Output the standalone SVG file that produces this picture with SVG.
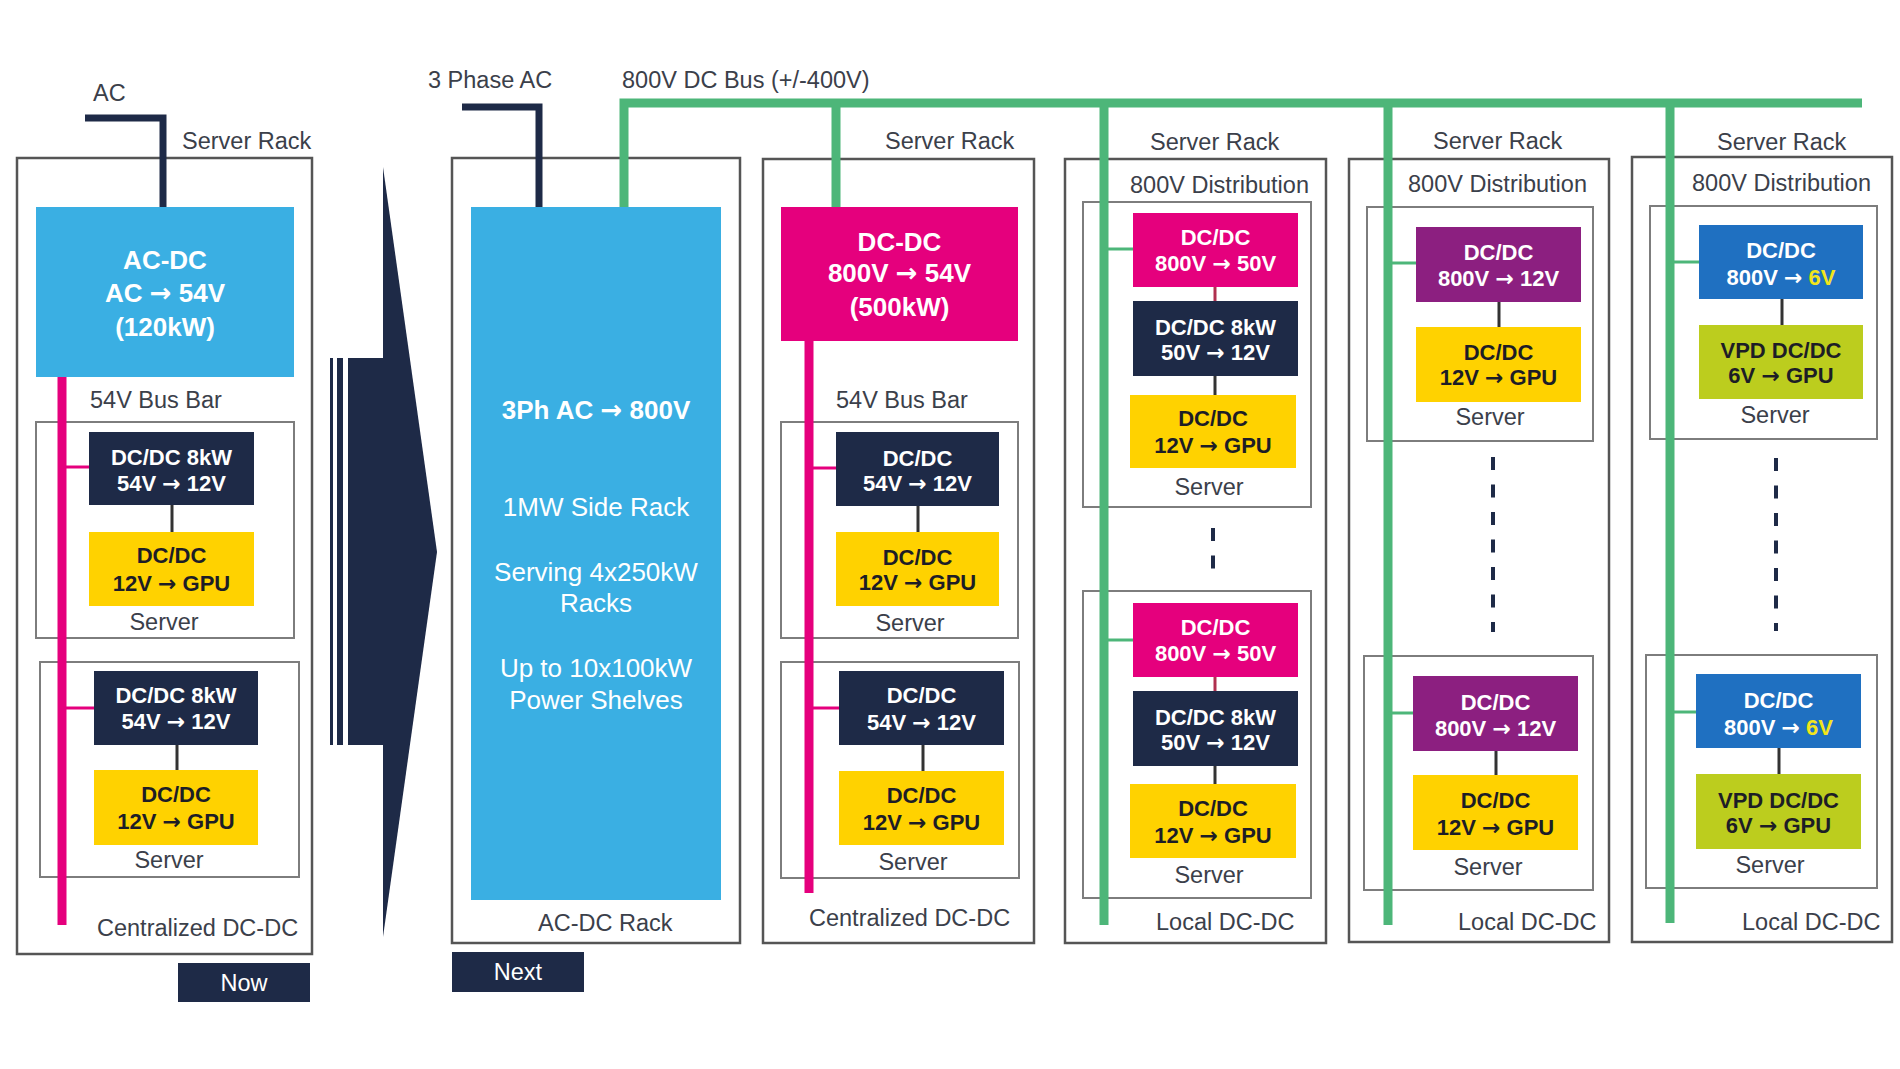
<svg xmlns="http://www.w3.org/2000/svg" width="1900" height="1069" viewBox="0 0 1900 1069">
<style>
.rack{fill:none;stroke:#555;stroke-width:2.5}
.srv{fill:none;stroke:#7d7d7d;stroke-width:2}
.lbl{font-family:"Liberation Sans",Arial,sans-serif;font-size:23.5px;fill:#3b404a}
.c{text-anchor:middle}
.bt{font-family:"Liberation Sans",Arial,sans-serif;font-weight:bold;font-size:22px;text-anchor:middle}
.big{font-size:26px}
.reg{font-family:"Liberation Sans",Arial,sans-serif;font-size:26px;text-anchor:middle;fill:#fff}
.ar{font-family:"DejaVu Sans",sans-serif;font-weight:bold}
.w{fill:#fff}
.d{fill:#1d1d26}
.navy{fill:#1e2a47}
.lblue{fill:#3aafe3}
.pink{fill:#e5007d}
.yel{fill:#ffd200}
.purp{fill:#8c1f80}
.blue{fill:#1f70c1}
.ygr{fill:#bccd1e}
.gbus{fill:none;stroke:#4db679;stroke-width:9}
.gstub{stroke:#4db679;stroke-width:3}
.pbus{stroke:#e5007d;stroke-width:9}
.pstub{stroke:#e5007d;stroke-width:3}
.link{stroke:#333;stroke-width:3}
.rlink{stroke:#b0304f;stroke-width:3}
.dash{stroke:#1e2a47;stroke-width:4;stroke-dasharray:13 14.5}
.feed{fill:none;stroke:#1e2a47;stroke-width:7}
</style>

<!-- Left: Now -->
<g id="rack-now">
  <rect class="rack" x="17" y="158" width="295" height="796"/>
  <text class="lbl" x="182" y="149">Server Rack</text>
  <text class="lbl" x="90" y="408">54V Bus Bar</text>
  <text class="lbl" x="97" y="936">Centralized DC-DC</text>
</g>
<g id="server-now-1">
  <rect class="srv" x="36" y="422" width="258" height="216"/>
  <text class="lbl c" x="164" y="630">Server</text>
</g>
<g id="server-now-2">
  <rect class="srv" x="40" y="662" width="259" height="215"/>
  <text class="lbl c" x="169" y="868">Server</text>
</g>
<g id="acdc-now">
  <rect class="lblue" x="36" y="207" width="258" height="170"/>
  <text class="bt big w" x="165" y="269">AC-DC</text>
  <text class="bt big w" x="165" y="302">AC <tspan class="ar">→</tspan> 54V</text>
  <text class="bt big w" x="165" y="336">(120kW)</text>
</g>
<g id="dcdc-now-1">
  <rect class="navy" x="89" y="432" width="165" height="73"/>
  <text class="bt w" x="171.5" y="465">DC/DC 8kW</text>
  <text class="bt w" x="171.5" y="491">54V <tspan class="ar">→</tspan> 12V</text>
</g>
<g id="gpu-now-1">
  <rect class="yel" x="89" y="532" width="165" height="74"/>
  <text class="bt d" x="171.5" y="563">DC/DC</text>
  <text class="bt d" x="171.5" y="591">12V <tspan class="ar">→</tspan> GPU</text>
</g>
<g id="dcdc-now-2">
  <rect class="navy" x="94" y="671" width="164" height="74"/>
  <text class="bt w" x="176" y="703">DC/DC 8kW</text>
  <text class="bt w" x="176" y="729">54V <tspan class="ar">→</tspan> 12V</text>
</g>
<g id="gpu-now-2">
  <rect class="yel" x="94" y="770" width="164" height="75"/>
  <text class="bt d" x="176" y="802">DC/DC</text>
  <text class="bt d" x="176" y="829">12V <tspan class="ar">→</tspan> GPU</text>
</g>
<g id="tag-now">
  <rect class="navy" x="178" y="963" width="132" height="39"/>
  <text class="lbl c w" x="244" y="991">Now</text>
</g>

<!-- Transition arrow -->
<g id="transition-arrow" class="navy">
  <rect x="330" y="358" width="3" height="387"/>
  <rect x="337" y="358" width="6" height="387"/>
  <rect x="348" y="358" width="36" height="387"/>
  <polygon points="383,167 437,552 383,937"/>
</g>

<!-- AC-DC rack -->
<g id="rack-acdc">
  <rect class="rack" x="452" y="158" width="288" height="785"/>
  <text class="lbl" x="538" y="931">AC-DC Rack</text>
</g>
<g id="acdc-side">
  <rect class="lblue" x="471" y="207" width="250" height="693"/>
  <text class="bt big w" x="596" y="419">3Ph AC <tspan class="ar">→</tspan> 800V</text>
  <text class="reg" x="596" y="516">1MW Side Rack</text>
  <text class="reg" x="596" y="581">Serving 4x250kW</text>
  <text class="reg" x="596" y="612">Racks</text>
  <text class="reg" x="596" y="677">Up to 10x100kW</text>
  <text class="reg" x="596" y="709">Power Shelves</text>
</g>
<g id="tag-next">
  <rect class="navy" x="452" y="952" width="132" height="40"/>
  <text class="lbl c w" x="518" y="980">Next</text>
</g>

<!-- Centralized rack -->
<g id="rack-central">
  <rect class="rack" x="763" y="159" width="271" height="784"/>
  <text class="lbl" x="885" y="149">Server Rack</text>
  <text class="lbl" x="836" y="408">54V Bus Bar</text>
  <text class="lbl" x="809" y="926">Centralized DC-DC</text>
</g>
<g id="server-central-1">
  <rect class="srv" x="781" y="422" width="237" height="216"/>
  <text class="lbl c" x="910" y="631">Server</text>
</g>
<g id="server-central-2">
  <rect class="srv" x="781" y="662" width="238" height="216"/>
  <text class="lbl c" x="913" y="870">Server</text>
</g>
<g id="dcdc-central">
  <rect class="pink" x="781" y="207" width="237" height="134"/>
  <text class="bt big w" x="899.5" y="251">DC-DC</text>
  <text class="bt big w" x="899.5" y="282">800V <tspan class="ar">→</tspan> 54V</text>
  <text class="bt big w" x="899.5" y="316">(500kW)</text>
</g>
<g id="dcdc-central-1">
  <rect class="navy" x="836" y="432" width="163" height="74"/>
  <text class="bt w" x="917.5" y="466">DC/DC</text>
  <text class="bt w" x="917.5" y="491">54V <tspan class="ar">→</tspan> 12V</text>
</g>
<g id="gpu-central-1">
  <rect class="yel" x="836" y="532" width="163" height="74"/>
  <text class="bt d" x="917.5" y="565">DC/DC</text>
  <text class="bt d" x="917.5" y="590">12V <tspan class="ar">→</tspan> GPU</text>
</g>
<g id="dcdc-central-2">
  <rect class="navy" x="839" y="671" width="165" height="74"/>
  <text class="bt w" x="921.5" y="703">DC/DC</text>
  <text class="bt w" x="921.5" y="730">54V <tspan class="ar">→</tspan> 12V</text>
</g>
<g id="gpu-central-2">
  <rect class="yel" x="839" y="771" width="165" height="74"/>
  <text class="bt d" x="921.5" y="803">DC/DC</text>
  <text class="bt d" x="921.5" y="830">12V <tspan class="ar">→</tspan> GPU</text>
</g>

<!-- Local rack 1 -->
<g id="rack-local-1">
  <rect class="rack" x="1065" y="159" width="261" height="784"/>
  <text class="lbl" x="1150" y="150">Server Rack</text>
  <text class="lbl" x="1130" y="193">800V Distribution</text>
  <text class="lbl" x="1156" y="930">Local DC-DC</text>
</g>
<g id="server-local1-1">
  <rect class="srv" x="1083" y="202" width="228" height="305"/>
  <text class="lbl c" x="1209" y="495">Server</text>
</g>
<g id="server-local1-2">
  <rect class="srv" x="1083" y="591" width="228" height="307"/>
  <text class="lbl c" x="1209" y="883">Server</text>
</g>
<g id="dcdc-l1-a1">
  <rect class="pink" x="1133" y="213" width="165" height="74"/>
  <text class="bt w" x="1215.5" y="245">DC/DC</text>
  <text class="bt w" x="1215.5" y="271">800V <tspan class="ar">→</tspan> 50V</text>
</g>
<g id="dcdc-l1-b1">
  <rect class="navy" x="1133" y="301" width="165" height="75"/>
  <text class="bt w" x="1215.5" y="335">DC/DC 8kW</text>
  <text class="bt w" x="1215.5" y="360">50V <tspan class="ar">→</tspan> 12V</text>
</g>
<g id="gpu-l1-1">
  <rect class="yel" x="1130" y="395" width="166" height="73"/>
  <text class="bt d" x="1213" y="426">DC/DC</text>
  <text class="bt d" x="1213" y="453">12V <tspan class="ar">→</tspan> GPU</text>
</g>
<g id="dcdc-l1-a2">
  <rect class="pink" x="1133" y="603" width="165" height="74"/>
  <text class="bt w" x="1215.5" y="635">DC/DC</text>
  <text class="bt w" x="1215.5" y="661">800V <tspan class="ar">→</tspan> 50V</text>
</g>
<g id="dcdc-l1-b2">
  <rect class="navy" x="1133" y="691" width="165" height="75"/>
  <text class="bt w" x="1215.5" y="725">DC/DC 8kW</text>
  <text class="bt w" x="1215.5" y="750">50V <tspan class="ar">→</tspan> 12V</text>
</g>
<g id="gpu-l1-2">
  <rect class="yel" x="1130" y="784" width="166" height="74"/>
  <text class="bt d" x="1213" y="816">DC/DC</text>
  <text class="bt d" x="1213" y="843">12V <tspan class="ar">→</tspan> GPU</text>
</g>

<!-- Local rack 2 -->
<g id="rack-local-2">
  <rect class="rack" x="1349" y="159" width="260" height="783"/>
  <text class="lbl" x="1433" y="149">Server Rack</text>
  <text class="lbl" x="1408" y="192">800V Distribution</text>
  <text class="lbl" x="1458" y="930">Local DC-DC</text>
</g>
<g id="server-local2-1">
  <rect class="srv" x="1367" y="207" width="226" height="234"/>
  <text class="lbl c" x="1490" y="425">Server</text>
</g>
<g id="server-local2-2">
  <rect class="srv" x="1364" y="656" width="229" height="234"/>
  <text class="lbl c" x="1488" y="875">Server</text>
</g>
<g id="dcdc-l2-1">
  <rect class="purp" x="1416" y="227" width="165" height="75"/>
  <text class="bt w" x="1498.5" y="260">DC/DC</text>
  <text class="bt w" x="1498.5" y="286">800V <tspan class="ar">→</tspan> 12V</text>
</g>
<g id="gpu-l2-1">
  <rect class="yel" x="1416" y="327" width="165" height="75"/>
  <text class="bt d" x="1498.5" y="360">DC/DC</text>
  <text class="bt d" x="1498.5" y="385">12V <tspan class="ar">→</tspan> GPU</text>
</g>
<g id="dcdc-l2-2">
  <rect class="purp" x="1413" y="676" width="165" height="75"/>
  <text class="bt w" x="1495.5" y="710">DC/DC</text>
  <text class="bt w" x="1495.5" y="736">800V <tspan class="ar">→</tspan> 12V</text>
</g>
<g id="gpu-l2-2">
  <rect class="yel" x="1413" y="775" width="165" height="75"/>
  <text class="bt d" x="1495.5" y="808">DC/DC</text>
  <text class="bt d" x="1495.5" y="835">12V <tspan class="ar">→</tspan> GPU</text>
</g>

<!-- Local rack 3 -->
<g id="rack-local-3">
  <rect class="rack" x="1632" y="157" width="260" height="785"/>
  <text class="lbl" x="1717" y="150">Server Rack</text>
  <text class="lbl" x="1692" y="191">800V Distribution</text>
  <text class="lbl" x="1742" y="930">Local DC-DC</text>
</g>
<g id="server-local3-1">
  <rect class="srv" x="1650" y="206" width="227" height="233"/>
  <text class="lbl c" x="1775" y="423">Server</text>
</g>
<g id="server-local3-2">
  <rect class="srv" x="1646" y="655" width="231" height="233"/>
  <text class="lbl c" x="1770" y="873">Server</text>
</g>
<g id="dcdc-l3-1">
  <rect class="blue" x="1699" y="225" width="164" height="74"/>
  <text class="bt w" x="1781" y="258">DC/DC</text>
  <text class="bt w" x="1781" y="285">800V <tspan class="ar">→</tspan> <tspan fill="#f2e51a">6V</tspan></text>
</g>
<g id="vpd-l3-1">
  <rect class="ygr" x="1699" y="325" width="164" height="74"/>
  <text class="bt d" x="1781" y="358">VPD DC/DC</text>
  <text class="bt d" x="1781" y="383">6V <tspan class="ar">→</tspan> GPU</text>
</g>
<g id="dcdc-l3-2">
  <rect class="blue" x="1696" y="674" width="165" height="74"/>
  <text class="bt w" x="1778.5" y="708">DC/DC</text>
  <text class="bt w" x="1778.5" y="735">800V <tspan class="ar">→</tspan> <tspan fill="#f2e51a">6V</tspan></text>
</g>
<g id="vpd-l3-2">
  <rect class="ygr" x="1696" y="774" width="165" height="75"/>
  <text class="bt d" x="1778.5" y="808">VPD DC/DC</text>
  <text class="bt d" x="1778.5" y="833">6V <tspan class="ar">→</tspan> GPU</text>
</g>

<!-- Top labels -->
<g id="top-labels">
  <text class="lbl" x="93" y="101">AC</text>
  <text class="lbl" x="428" y="88">3 Phase AC</text>
  <text class="lbl" x="622" y="88">800V DC Bus (+/-400V)</text>
</g>

<!-- Connectors -->
<g id="connectors">
  <path class="feed" d="M85,118 H163 V207"/>
  <path class="feed" d="M462,107 H539 V207"/>
  <path class="gbus" d="M624,207 V103 H1862"/>
  <line class="gbus" x1="836" y1="103" x2="836" y2="207"/>
  <line class="gbus" x1="1104" y1="103" x2="1104" y2="925"/>
  <line class="gbus" x1="1388" y1="103" x2="1388" y2="925"/>
  <line class="gbus" x1="1670" y1="103" x2="1670" y2="923"/>
  <line class="gstub" x1="1104" y1="249" x2="1133" y2="249"/>
  <line class="gstub" x1="1104" y1="640" x2="1133" y2="640"/>
  <line class="gstub" x1="1388" y1="263" x2="1416" y2="263"/>
  <line class="gstub" x1="1388" y1="713" x2="1413" y2="713"/>
  <line class="gstub" x1="1670" y1="262" x2="1699" y2="262"/>
  <line class="gstub" x1="1670" y1="712" x2="1696" y2="712"/>
  <line class="pbus" x1="62" y1="377" x2="62" y2="925"/>
  <line class="pbus" x1="809" y1="341" x2="809" y2="893"/>
  <line class="pstub" x1="62" y1="467" x2="89" y2="467"/>
  <line class="pstub" x1="62" y1="708" x2="94" y2="708"/>
  <line class="pstub" x1="809" y1="468" x2="836" y2="468"/>
  <line class="pstub" x1="809" y1="708" x2="839" y2="708"/>
  <line class="link" x1="172" y1="505" x2="172" y2="532"/>
  <line class="link" x1="177" y1="745" x2="177" y2="770"/>
  <line class="link" x1="918" y1="506" x2="918" y2="532"/>
  <line class="link" x1="923" y1="745" x2="923" y2="771"/>
  <line class="rlink" x1="1215" y1="287" x2="1215" y2="301"/>
  <line class="link" x1="1215" y1="376" x2="1215" y2="395"/>
  <line class="rlink" x1="1215" y1="677" x2="1215" y2="691"/>
  <line class="link" x1="1215" y1="766" x2="1215" y2="784"/>
  <line class="link" x1="1499" y1="302" x2="1499" y2="327"/>
  <line class="link" x1="1496" y1="751" x2="1496" y2="775"/>
  <line class="link" x1="1782" y1="299" x2="1782" y2="325"/>
  <line class="link" x1="1779" y1="748" x2="1779" y2="774"/>
  <line class="dash" x1="1213" y1="528" x2="1213" y2="573" stroke-dasharray="15 15"/>
  <line class="dash" x1="1493" y1="457" x2="1493" y2="632"/>
  <line class="dash" x1="1776" y1="458" x2="1776" y2="631"/>
</g>
</svg>
